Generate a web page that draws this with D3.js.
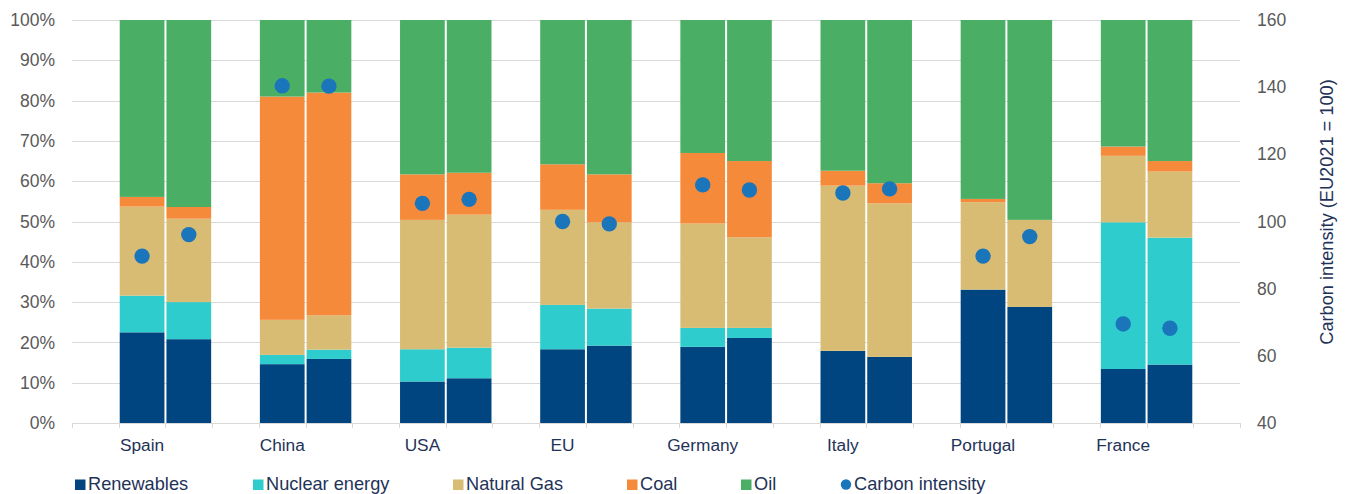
<!DOCTYPE html>
<html>
<head>
<meta charset="utf-8">
<script src="https://cdn.jsdelivr.net/npm/d3@7"></script>
<style>
  html, body { margin: 0; padding: 0; background: #ffffff; }
  svg { display: block; font-family: "Liberation Sans", Arial, sans-serif; }
</style>
</head>
<body>
<svg id="chart" width="1347" height="494"></svg>
<script>
// Energy mix (share of primary energy, %) for two consecutive years per country,
// with carbon intensity (EU 2021 = 100) on the secondary axis.
const countries = ["Spain", "China", "USA", "EU", "Germany", "Italy", "Portugal", "France"];
const periods = ["2021", "2022"];

// Values listed per country as [first year, second year]
const renewables = [[22.5, 20.8], [14.6, 15.9], [10.3, 11.1], [18.3, 19.2], [18.9, 21.1], [17.9, 16.4], [33.1, 28.8], [13.4, 14.5]];
const nuclear    = [[9.1, 9.2],   [2.3, 2.3],   [8.0, 7.6],   [11.0, 9.2],  [4.7, 2.5],   [0.0, 0.0],   [0.0, 0.0],   [36.4, 31.5]];
const naturalGas = [[22.1, 20.7], [8.7, 8.5],   [32.1, 33.0], [23.6, 21.4], [25.9, 22.5], [41.0, 38.1], [21.7, 21.6], [16.5, 16.4]];
const coal       = [[2.4, 2.9],   [55.4, 55.3], [11.3, 10.4], [11.3, 11.9], [17.5, 18.9], [3.7, 5.0],   [0.8, 0.0],   [2.3, 2.6]];
const oil        = [[43.9, 46.4], [19.0, 18.0], [38.3, 37.9], [35.8, 38.3], [33.0, 35.0], [37.4, 40.5], [44.4, 49.6], [31.4, 35.0]];
const carbonIntensity = [[89.7, 96.1], [140.4, 140.3], [105.4, 106.6], [100.0, 99.3], [110.9, 109.4], [108.5, 109.7], [89.7, 95.5], [69.5, 68.2]];

const leftTicks = [0, 0.1, 0.2, 0.3, 0.4, 0.5, 0.6, 0.7, 0.8, 0.9, 1.0];
const rightTicks = [40, 60, 80, 100, 120, 140, 160];
const axisTitle = "Carbon intensity (EU2021 = 100)";

const seriesDefs = [
  { key: "Renewables",     values: renewables, color: "#00457f" },
  { key: "Nuclear energy", values: nuclear,    color: "#2ecccc" },
  { key: "Natural Gas",    values: naturalGas, color: "#d8bc74" },
  { key: "Coal",           values: coal,       color: "#f68a3b" },
  { key: "Oil",            values: oil,        color: "#4aaf64" }
];
const dotColor = "#1b75bb";
const navy = "#1f3358";
const grey = "#595959";
const gridColor = "#d9d9d9";

// Build rows: one per bar, with a slot index on the category axis
// (each country takes a blank slot followed by its two bars; one trailing blank slot)
const rows = [];
countries.forEach((c, ci) => {
  periods.forEach((p, pi) => {
    const row = { country: c, period: p, slot: ci * 3 + 1 + pi, ci: carbonIntensity[ci][pi] };
    seriesDefs.forEach(s => { row[s.key] = s.values[ci][pi] / 100; });
    rows.push(row);
  });
});
const nSlots = countries.length * 3 + 1;

const margin = { left: 72, right: 107, top: 20, bottom: 71 };
const W = 1347, H = 494;
const x0 = margin.left, x1 = W - margin.right;
const y0 = H - margin.bottom, y1 = margin.top;

const svg = d3.select("#chart");

const x = d3.scaleBand().domain(d3.range(nSlots)).range([x0, x1]).padding(0);
const y = d3.scaleLinear().domain([0, 1]).range([y0, y1]);
const yR = d3.scaleLinear().domain([40, 160]).range([y0, y1]);

// Gridlines
svg.append("g")
  .selectAll("line")
  .data(leftTicks.slice(1))
  .join("line")
  .attr("x1", x0).attr("x2", x1)
  .attr("y1", d => Math.round(y(d)) + 0.5).attr("y2", d => Math.round(y(d)) + 0.5)
  .attr("stroke", gridColor).attr("stroke-width", 1);

// Stacked bars
const stack = d3.stack().keys(seriesDefs.map(s => s.key));
const stacked = stack(rows);
const colorOf = d3.scaleOrdinal().domain(seriesDefs.map(s => s.key)).range(seriesDefs.map(s => s.color));
const inset = 1;

svg.append("g")
  .selectAll("g")
  .data(stacked)
  .join("g")
  .attr("fill", d => colorOf(d.key))
  .selectAll("rect")
  .data(d => d)
  .join("rect")
  .attr("x", d => x(d.data.slot) + inset)
  .attr("width", x.bandwidth() - 2 * inset)
  .attr("y", d => y(d[1]))
  .attr("height", d => Math.max(0, y(d[0]) - y(d[1])));

// Category axis line with tick marks at every slot boundary
const xAxisG = svg.append("g");
xAxisG.append("line")
  .attr("x1", x0).attr("x2", x1)
  .attr("y1", y0 + 0.5).attr("y2", y0 + 0.5)
  .attr("stroke", gridColor).attr("stroke-width", 1);
xAxisG.selectAll("line.tick")
  .data(d3.range(nSlots + 1))
  .join("line")
  .attr("class", "tick")
  .attr("x1", d => Math.round(x0 + d * x.step()) + 0.5)
  .attr("x2", d => Math.round(x0 + d * x.step()) + 0.5)
  .attr("y1", y0).attr("y2", y0 + 5)
  .attr("stroke", gridColor).attr("stroke-width", 1);

// Country labels centred on each three-slot group
xAxisG.selectAll("text")
  .data(countries)
  .join("text")
  .attr("x", (d, i) => x(i * 3) + 1.5 * x.step())
  .attr("y", y0 + 28)
  .attr("text-anchor", "middle")
  .attr("fill", navy)
  .attr("font-size", 17.3)
  .text(d => d);

// Left axis labels
svg.append("g")
  .selectAll("text")
  .data(leftTicks)
  .join("text")
  .attr("x", x0 - 17)
  .attr("y", d => y(d))
  .attr("dy", "0.35em")
  .attr("text-anchor", "end")
  .attr("fill", grey)
  .attr("font-size", 17.5)
  .text(d3.format(".0%"));

// Right axis labels
svg.append("g")
  .selectAll("text")
  .data(rightTicks)
  .join("text")
  .attr("x", x1 + 17)
  .attr("y", d => yR(d))
  .attr("dy", "0.35em")
  .attr("text-anchor", "start")
  .attr("fill", grey)
  .attr("font-size", 17.5)
  .text(d => d);

// Right axis title
svg.append("text")
  .attr("transform", `translate(${W - 20},212) rotate(-90)`)
  .attr("text-anchor", "middle")
  .attr("dy", "0.35em")
  .attr("fill", navy)
  .attr("font-size", 18.2)
  .text(axisTitle);

// Carbon intensity dots
svg.append("g")
  .selectAll("circle")
  .data(rows)
  .join("circle")
  .attr("cx", d => x(d.slot) + x.bandwidth() / 2)
  .attr("cy", d => yR(d.ci))
  .attr("r", 7.7)
  .attr("fill", dotColor);

// Legend
const legendItems = seriesDefs.map(s => ({ name: s.key, color: s.color, shape: "square" }))
  .concat([{ name: "Carbon intensity", color: dotColor, shape: "circle" }]);
const legendX = [75, 253, 453, 627, 741, 841];
const legendY = 490;
const lg = svg.append("g").selectAll("g")
  .data(legendItems)
  .join("g")
  .attr("transform", (d, i) => `translate(${legendX[i]},${legendY})`);
lg.filter(d => d.shape === "square").append("rect")
  .attr("x", 0).attr("y", -10.5).attr("width", 10.5).attr("height", 10.5)
  .attr("fill", d => d.color);
lg.filter(d => d.shape === "circle").append("circle")
  .attr("cx", 5).attr("cy", -5.5).attr("r", 5.2)
  .attr("fill", d => d.color);
lg.append("text")
  .attr("x", 13)
  .attr("y", 0)
  .attr("fill", navy)
  .attr("font-size", 18.2)
  .text(d => d.name);
</script>
</body>
</html>
